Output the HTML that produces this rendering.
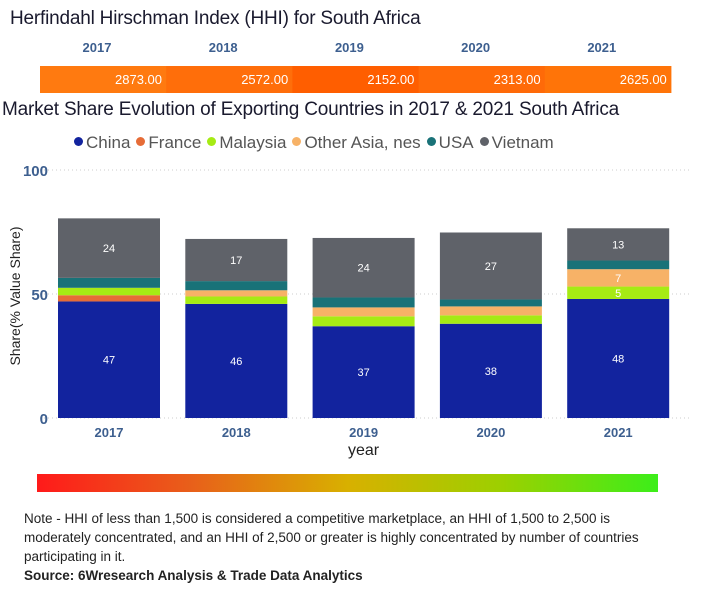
<!DOCTYPE html>
<html><head><meta charset="utf-8"><style>
body{margin:0;width:726px;height:600px;background:#fff;font-family:"Liberation Sans",sans-serif;position:relative;overflow:hidden}
.a{position:absolute}
</style></head><body>
<div class="a" style="left:10px;top:8px;font-size:19px;color:#1a1a2e;letter-spacing:-0.2px">Herfindahl Hirschman Index (HHI) for South Africa</div>
<svg class="a" style="left:0;top:0" width="726" height="600" id="svg">
<defs><linearGradient id="g" x1="0" x2="1"><stop offset="0" stop-color="#ff1a1a"/><stop offset="0.25" stop-color="#e8601a"/><stop offset="0.5" stop-color="#d8b000"/><stop offset="0.75" stop-color="#9cd000"/><stop offset="1" stop-color="#3cee1a"/></linearGradient></defs>
<rect x="37" y="474" width="621" height="18" fill="url(#g)"/>
</svg>
<div class="a" style="left:2px;top:99px;font-size:19px;color:#1a1a2e;letter-spacing:-0.2px">Market Share Evolution of Exporting Countries in 2017 &amp; 2021 South Africa</div>
<div class="a" style="left:74px;top:133px;font-size:17px;color:#555;white-space:nowrap" id="legend"></div>
<div class="a" style="left:-60px;top:288px;width:150px;text-align:center;transform:rotate(-90deg);font-size:14px;color:#222;white-space:nowrap">Share(% Value Share)</div>
<div class="a" style="left:348px;top:442px;font-size:16px;color:#222">year</div>
<div class="a" style="left:24px;top:509px;width:650px;font-size:13.5px;line-height:19px;color:#222">Note - HHI of less than 1,500 is considered a competitive marketplace, an HHI of 1,500 to 2,500 is moderately concentrated, and an HHI of 2,500 or greater is highly concentrated by number of countries participating in it.<br><b>Source: 6Wresearch Analysis &amp; Trade Data Analytics</b></div>
<script>
const years=["2017","2018","2019","2020","2021"];
const hhi=[2873,2572,2152,2313,2625];
const series=["China","France","Malaysia","Other Asia, nes","USA","Vietnam"];
const colors=["#12239e","#e66c37","#a6eb14","#f7b267","#197278","#5f6269"];
const china=[47,46,37,38,48];
const france=[2.5,0,0,0,0];
const malaysia=[3,3,4,3.4,5];
const otherAsia=[0,2.5,3.6,3.6,7];
const usa=[4,3.7,4,2.8,3.5];
const vietnam=[24,17,24,27,13];
const yTicks=[0,50,100];
const vals=[china,france,malaysia,otherAsia,usa,vietnam];
const NS="http://www.w3.org/2000/svg";
const svg=document.getElementById('svg');
function mk(t,at){const e=document.createElementNS(NS,t);for(const k in at)e.setAttribute(k,at[k]);svg.appendChild(e);return e;}
const y0=418,ppu=2.48;const y=v=>y0-v*ppu;
const x=i=>58+i*127.3;const bw=102;
const hx=i=>40+i*126.2;
const hc=["#ff7a10","#ff6e0a","#ff5e00","#ff6a08","#ff7408"];
hhi.forEach((v,i)=>{
 const r=mk('rect',{x:hx(i),y:66,width:126.6,height:27,fill:hc[i]});
 
 
 const t=mk('text',{x:hx(i)+122,y:84,'text-anchor':'end','font-size':13,fill:'#fff','font-family':'Liberation Sans'});
 t.textContent=v.toFixed(2);
 
 
 const h=mk('text',{x:hx(i)+57,y:52,'text-anchor':'middle','font-size':13,'font-weight':'bold',fill:'#3d5f8f','font-family':'Liberation Sans'});
 h.textContent=years[i];
 
 
});
yTicks.forEach(v=>{
 const l=mk('line',{x1:40,x2:690,y1:y(v),y2:y(v),stroke:'#ccc','stroke-dasharray':'1,3'});
 
 
 const t=mk('text',{x:48,y:y(v)+6,'text-anchor':'end','font-size':15,'font-weight':'bold',fill:'#3d5f8f','font-family':'Liberation Sans'});
 t.textContent=v;
 
 
});
years.forEach((yr,i)=>{
 let acc=0;
 vals.forEach((s,j)=>{
  const v=s[i];if(v<=0)return;
  const r=mk('rect',{x:x(i),y:y(acc+v),width:bw,height:v*ppu,fill:colors[j]});
  
  
  if(v>=5){const t=mk('text',{x:x(i)+bw/2,y:y(acc+v/2)+4,'text-anchor':'middle','font-size':11,fill:'#fff','font-family':'Liberation Sans'});
   t.textContent=Math.round(v);
   
   }
  acc+=v;
 });
 const t=mk('text',{x:x(i)+bw/2,y:437,'text-anchor':'middle','font-size':13,'font-weight':'bold',fill:'#3d5f8f','font-family':'Liberation Sans'});
 t.textContent=yr;
 
 
});
const lg=document.getElementById('legend');
series.forEach((s,j)=>{
 const sp=document.createElement('span');
 
 
 sp.style.marginRight='6px';
 sp.innerHTML='<span style="display:inline-block;width:9px;height:9px;border-radius:50%;background:'+colors[j]+';margin-right:3px;vertical-align:2px"></span>'+s;
 lg.appendChild(sp);
});
</script>
</body></html>
